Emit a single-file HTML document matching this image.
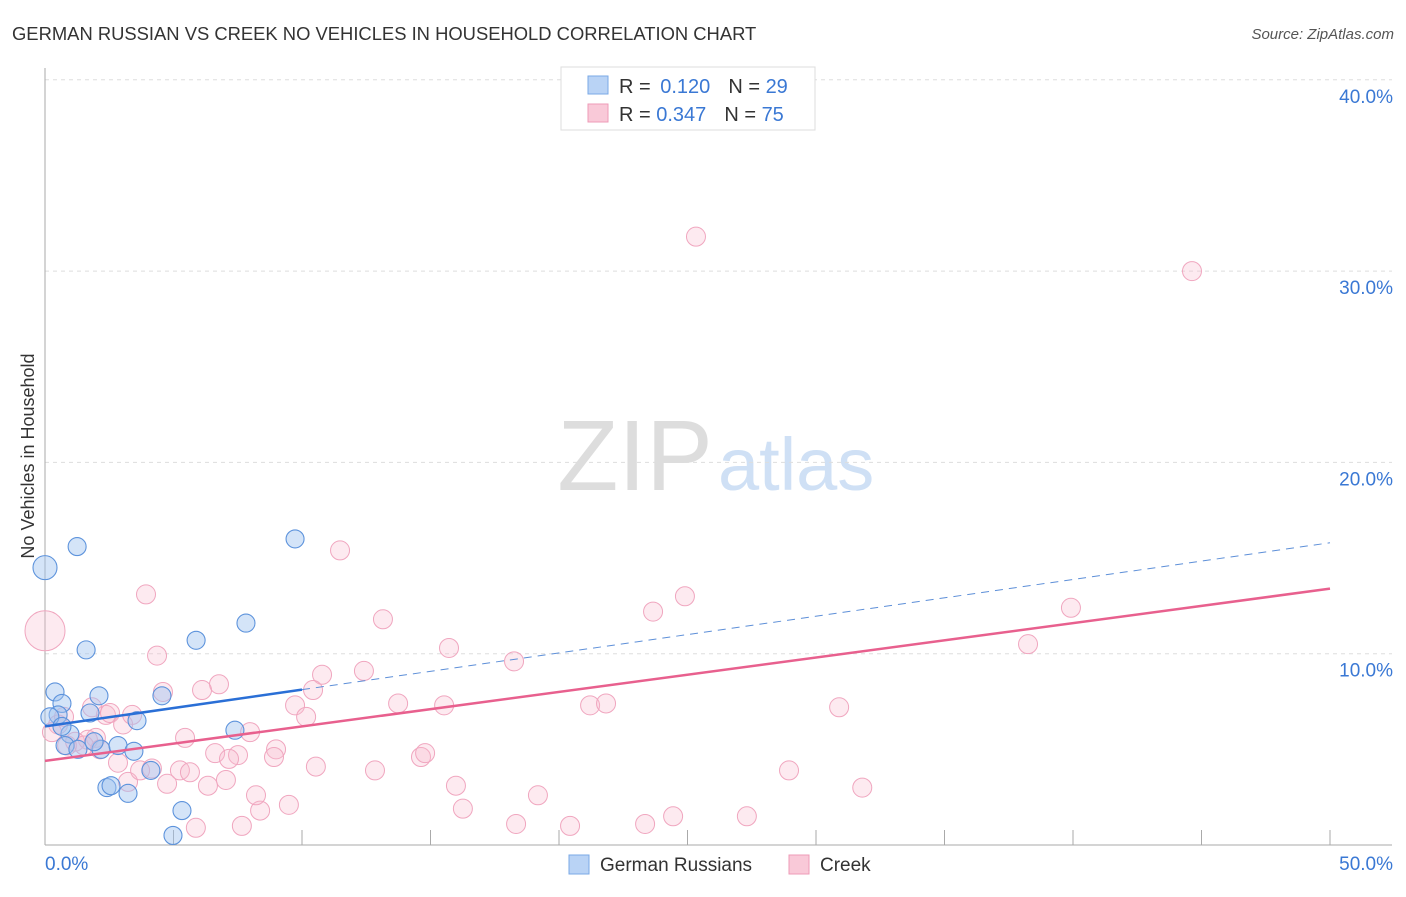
<!DOCTYPE html>
<html><head><meta charset="utf-8"><style>
body{margin:0;background:#fff;font-family:"Liberation Sans",sans-serif;}
svg text{font-family:"Liberation Sans",sans-serif;}
</style></head><body>
<svg id="chart" width="1406" height="892" xmlns="http://www.w3.org/2000/svg">
<text x="12" y="40" font-size="18.4" fill="#333">GERMAN RUSSIAN VS CREEK NO VEHICLES IN HOUSEHOLD CORRELATION CHART</text>
<text x="1394" y="39" font-size="15" fill="#555" font-style="italic" text-anchor="end">Source: ZipAtlas.com</text>
<text x="34" y="456" font-size="18" fill="#333" text-anchor="middle" transform="rotate(-90 34 456)">No Vehicles in Household</text>
<g><text x="635" y="490" font-size="100" fill="#ddd" font-family="Liberation Serif" text-anchor="middle">ZIP</text><text x="718" y="490" font-size="74" fill="#cfe0f5">atlas</text></g>
<g id="grid"></g><g id="axes"></g><g id="marks"></g>
<g>
<rect x="561" y="67" width="254" height="63" fill="#fff" stroke="#ddd"/>
<rect x="588" y="76" width="20" height="18" fill="#b9d3f5" stroke="#7aa8e6"/>
<rect x="588" y="104" width="20" height="18" fill="#f9c9d8" stroke="#ee9bb7"/>
<text x="619" y="93" font-size="20" fill="#333">R = <tspan fill="#3a78d4" dx="4">0.120</tspan><tspan fill="#333" dx="18">N = </tspan><tspan fill="#3a78d4">29</tspan></text>
<text x="619" y="121" font-size="20" fill="#333">R = <tspan fill="#3a78d4">0.347</tspan><tspan fill="#333" dx="18">N = </tspan><tspan fill="#3a78d4">75</tspan></text>
</g>
<g>
<rect x="569" y="855" width="20" height="19" fill="#b9d3f5" stroke="#7aa8e6"/>
<text x="600" y="871" font-size="19" fill="#333">German Russians</text>
<rect x="789" y="855" width="20" height="19" fill="#f9c9d8" stroke="#ee9bb7"/>
<text x="820" y="871" font-size="19" fill="#333">Creek</text>
</g>
</svg>
<script>
const yTicks=[10,20,30,40];
const yTickLabels=["10.0%","20.0%","30.0%","40.0%"];
const xTickLabels=["0.0%","50.0%"];
const blueX=[0,1.25,0.39,0.66,0.51,0.19,0.97,0.78,2.1,1.75,1.6,1.28,2.18,1.91,2.84,3.46,3.58,4.55,4.12,2.41,2.57,3.23,5.33,4.98,5.88,7.82,7.39,9.73,0.66];
const blueY=[14.5,15.6,8.0,7.4,6.8,6.7,5.8,5.2,7.8,6.9,10.2,5.0,5.0,5.4,5.2,4.9,6.5,7.8,3.9,3.0,3.1,2.7,1.8,0.5,10.7,11.6,6.0,16.0,6.2];
const pinkX=[0,3.93,11.48,4.36,13.15,15.72,18.25,23.66,24.9,39.92,38.25,25.33,44.63,10.78,12.41,9.73,10.43,6.77,6.11,4.59,13.74,15.53,21.21,21.83,30.9,10.16,7.98,5.45,6.62,7.51,7.16,8.99,8.91,14.63,14.79,10.54,12.84,15.99,19.18,28.95,31.8,16.26,18.33,20.43,23.35,24.44,27.31,9.49,8.37,8.21,5.87,7.66,7.04,6.34,5.25,5.64,4.75,3.23,4.16,3.7,2.84,1.98,2.37,1.83,2.53,3.04,3.39,1.67,0.86,1.17,0.51,0.27,0.74,2.14,1.52];
const pinkY=[11.2,13.1,15.4,9.9,11.8,10.3,9.6,12.2,13.0,12.4,10.5,31.8,30.0,8.9,9.1,7.3,8.1,8.4,8.1,8.0,7.4,7.3,7.3,7.4,7.2,6.7,5.9,5.6,4.8,4.7,4.5,5.0,4.6,4.6,4.8,4.1,3.9,3.1,2.6,3.9,3.0,1.9,1.1,1.0,1.1,1.5,1.5,2.1,1.8,2.6,0.9,1.0,3.4,3.1,3.9,3.8,3.2,3.3,4.0,3.9,4.3,5.6,6.8,7.2,6.9,6.3,6.8,5.5,5.2,5.4,6.3,5.9,6.7,5.0,5.2];
const blueR=[12,9,9,9,9,9,9,9,9,9,9,9,9,9,9,9,9,9,9,9,9,9,9,9,9,9,9,9,9];
const blueTrend=[6.2,0.192];
const pinkTrend=[4.4,0.18];
const blueSolidEnd=10;
const X=v=>45+v*25.7, Y=v=>845-v*19.13;
const NS="http://www.w3.org/2000/svg";
function mk(tag,attrs,parent){const e=document.createElementNS(NS,tag);for(const k in attrs)e.setAttribute(k,attrs[k]);parent.appendChild(e);return e;}
const grid=document.getElementById('grid'),axes=document.getElementById('axes'),marks=document.getElementById('marks');
yTicks.forEach((t,i)=>{
 const l=mk('line',{x1:45,x2:1392,y1:Y(t),y2:Y(t),stroke:'#ddd','stroke-dasharray':'4,4'},grid);
 
 
 const tx=mk('text',{x:1393,y:Y(t)+23,'font-size':19,fill:'#3a78d4','text-anchor':'end'},axes);tx.textContent=yTickLabels[i];
 
 
});
mk('line',{x1:45,x2:45,y1:68,y2:845,stroke:'#aaa'},axes);
mk('line',{x1:45,x2:1392,y1:845,y2:845,stroke:'#aaa'},axes);
for(let i=0;i<=10;i++){const l=mk('line',{x1:X(i*5),x2:X(i*5),y1:830,y2:845,stroke:'#aaa'},axes);
 
 }
const xl0=mk('text',{x:45,y:870,'font-size':19,fill:'#3a78d4'},axes);xl0.textContent=xTickLabels[0];


const xl1=mk('text',{x:1393,y:870,'font-size':19,fill:'#3a78d4','text-anchor':'end'},axes);xl1.textContent=xTickLabels[1];


pinkX.forEach((x,i)=>{const c=mk('circle',{cx:X(x),cy:Y(pinkY[i]),r:i===0?20:9.5,fill:'rgba(248,185,205,0.3)',stroke:'#f0a6bf','stroke-width':1},marks);
 
 });
blueX.forEach((x,i)=>{const c=mk('circle',{cx:X(x),cy:Y(blueY[i]),r:blueR[i],fill:'rgba(160,195,240,0.45)',stroke:'#5d93dc','stroke-width':1.1},marks);
 
 });
const bx1=blueSolidEnd;
const bl=mk('line',{x1:X(0),y1:Y(blueTrend[0]),x2:X(bx1),y2:Y(blueTrend[0]+blueTrend[1]*bx1),stroke:'#2a6fd6','stroke-width':2.5},marks);


const bd=mk('line',{x1:X(bx1),y1:Y(blueTrend[0]+blueTrend[1]*bx1),x2:X(50),y2:Y(blueTrend[0]+blueTrend[1]*50),stroke:'#5d8fd8','stroke-width':1,'stroke-dasharray':'8,6'},marks);


const pl=mk('line',{x1:X(0),y1:Y(pinkTrend[0]),x2:X(50),y2:Y(pinkTrend[0]+pinkTrend[1]*50),stroke:'#e8608e','stroke-width':2.5},marks);


</script>
</body></html>
